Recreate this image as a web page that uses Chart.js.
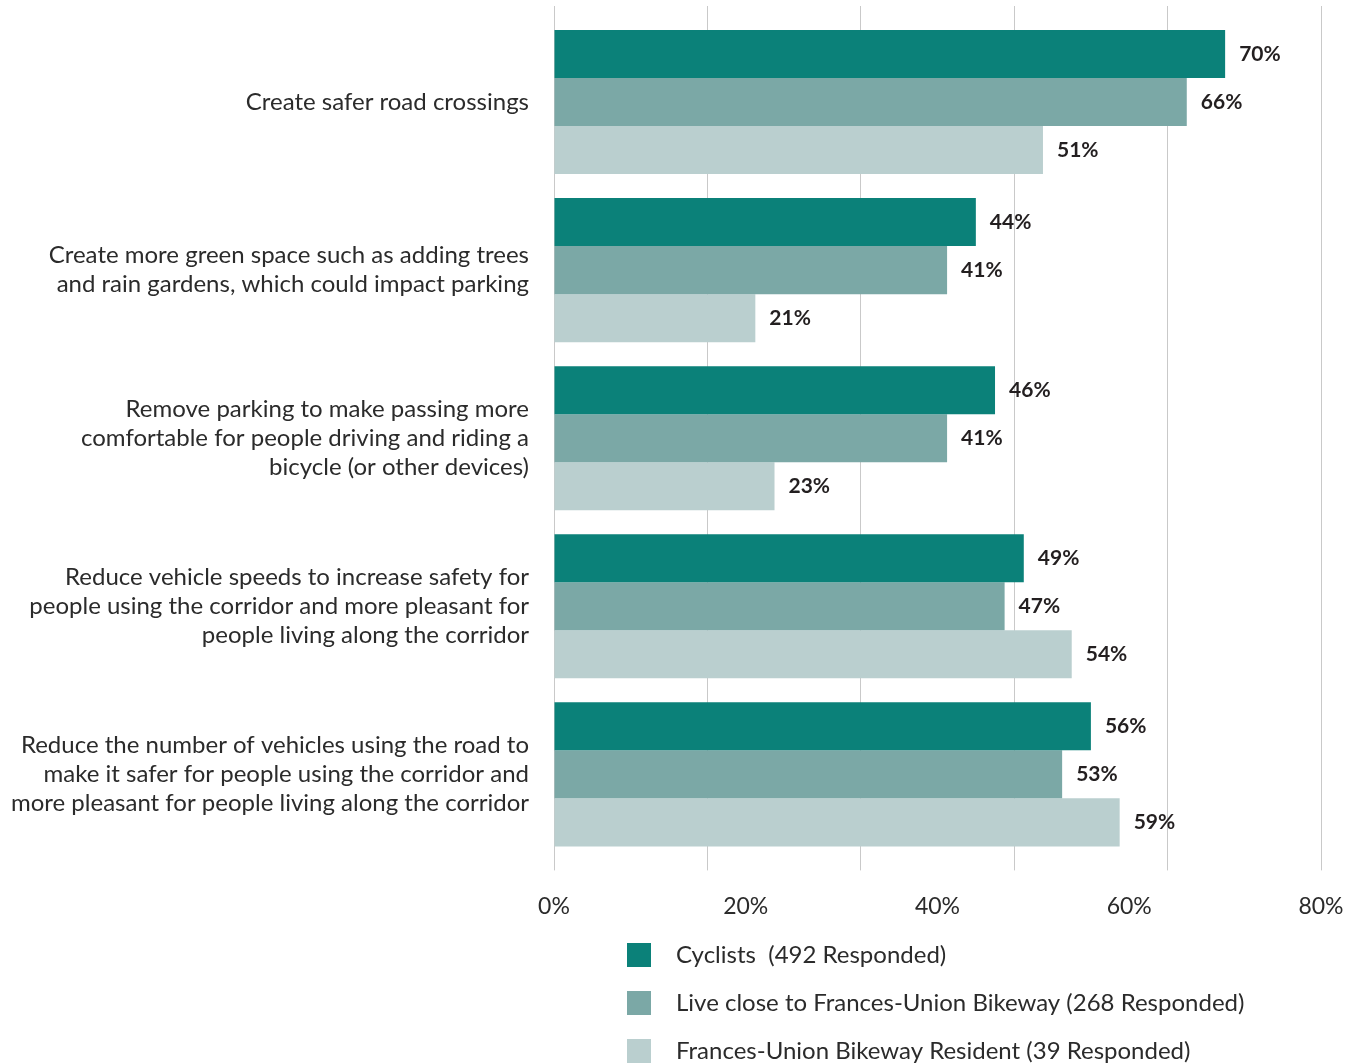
<!DOCTYPE html>
<html>
<head>
<meta charset="utf-8">
<script src="https://cdn.jsdelivr.net/npm/chart.js@4.4.1/dist/chart.umd.min.js"></script>
<style>
  html, body { margin: 0; padding: 0; background: #ffffff; }
  #wrap { width: 1361px; height: 1063px; position: relative; }
</style>
</head>
<body>
<div id="wrap"><canvas id="chart"></canvas></div>
<script>
// Survey options (multi-line axis labels)
const categories = [
  ['Create safer road crossings'],
  ['Create more green space such as adding trees', 'and rain gardens, which could impact parking'],
  ['Remove parking to make passing more', 'comfortable for people driving and riding a', 'bicycle (or other devices)'],
  ['Reduce vehicle speeds to increase safety for', 'people using the corridor and more pleasant for', 'people living along the corridor'],
  ['Reduce the number of vehicles using the road to', 'make it safer for people using the corridor and', 'more pleasant for people living along the corridor']
];

// Share of respondents supporting each option (%)
const cyclists = [70, 44, 46, 49, 56];
const liveClose = [66, 41, 41, 47, 53];
const residents = [51, 21, 23, 54, 59];

const seriesNames = [
  'Cyclists  (492 Responded)',
  'Live close to Frances-Union Bikeway (268 Responded)',
  'Frances-Union Bikeway Resident (39 Responded)'
];
const seriesColors = ['#0b8179', '#7ba8a6', '#bacfcf'];

const axisTicks = [0, 20, 40, 60, 80];
const axisMax = 80;

const textFont = "'Lato', 'Open Sans', sans-serif";
const textColor = '#2b2b2b';

// Value labels to the right of each bar
const valueLabels = {
  id: 'valueLabels',
  afterDatasetsDraw(chart) {
    const ctx = chart.ctx;
    ctx.save();
    ctx.font = "bold 21px " + textFont;
    ctx.fillStyle = '#231f20';
    ctx.textAlign = 'left';
    ctx.textBaseline = 'middle';
    chart.data.datasets.forEach((ds, di) => {
      chart.getDatasetMeta(di).data.forEach((bar, i) => {
        ctx.fillText(ds.data[i] + '%', bar.x + 14, bar.y);
      });
    });
    ctx.restore();
  }
};

// Vertical legend list under the axis
const listLegend = {
  id: 'listLegend',
  afterDraw(chart) {
    const ctx = chart.ctx;
    const x0 = chart.chartArea.left + 73;
    const y0 = 955;
    const step = 48;
    ctx.save();
    ctx.font = "24px " + textFont;
    ctx.textBaseline = 'middle';
    ctx.textAlign = 'left';
    chart.data.datasets.forEach((ds, i) => {
      const y = y0 + i * step;
      ctx.fillStyle = ds.backgroundColor;
      ctx.fillRect(x0, y - 12, 24, 24);
      ctx.fillStyle = textColor;
      ctx.fillText(ds.label, x0 + 49, y);
    });
    ctx.restore();
  }
};

const gridColor = '#c9c9c9';
const noPadding = scale => {
  scale.paddingTop = 0; scale.paddingBottom = 0;
  scale.paddingLeft = 0; scale.paddingRight = 0;
};

new Chart(document.getElementById('chart'), {
  type: 'bar',
  data: {
    labels: categories,
    datasets: [
      { label: seriesNames[0], data: cyclists, backgroundColor: seriesColors[0] },
      { label: seriesNames[1], data: liveClose, backgroundColor: seriesColors[1] },
      { label: seriesNames[2], data: residents, backgroundColor: seriesColors[2] }
    ]
  },
  options: {
    indexAxis: 'y',
    responsive: true,
    maintainAspectRatio: false,
    animation: false,
    datasets: {
      bar: { barPercentage: 1, categoryPercentage: 144 / 168, borderWidth: 0 }
    },
    layout: { padding: { top: 6, right: 40, bottom: 121, left: 0 } },
    plugins: {
      legend: { display: false },
      tooltip: { enabled: false }
    },
    scales: {
      y: {
        position: 'left',
        grid: { display: false, drawTicks: false },
        border: { display: false },
        ticks: {
          padding: 25,
          color: textColor,
          font: { family: textFont, size: 24, lineHeight: 29 / 24 }
        },
        afterFit(scale) { noPadding(scale); scale.width = 554; }
      },
      // grid lines, extended below the plot area
      x: {
        type: 'linear',
        position: 'bottom',
        min: 0,
        max: axisMax,
        weight: 0,
        ticks: { display: false, stepSize: axisMax / 5 },
        grid: { color: gridColor, lineWidth: 1, drawTicks: true, tickLength: 12, tickColor: gridColor },
        border: { display: false },
        afterFit: noPadding
      },
      // short grid stubs above the plot area
      xTop: {
        type: 'linear',
        position: 'top',
        axis: 'x',
        min: 0,
        max: axisMax,
        ticks: { display: false, stepSize: axisMax / 5 },
        grid: { drawOnChartArea: false, drawTicks: true, tickLength: 12, color: gridColor, tickColor: gridColor },
        border: { display: false },
        afterFit: noPadding
      },
      // percentage labels
      xLabels: {
        type: 'linear',
        position: 'bottom',
        axis: 'x',
        min: 0,
        max: axisMax,
        weight: 1,
        afterBuildTicks(scale) { scale.ticks = axisTicks.map(v => ({ value: v })); },
        ticks: {
          padding: 22,
          color: textColor,
          font: { family: textFont, size: 23 },
          callback: v => v + '%'
        },
        grid: { display: false, drawTicks: false },
        border: { display: false },
        afterFit: noPadding
      }
    }
  },
  plugins: [valueLabels, listLegend]
});
</script>
</body>
</html>
